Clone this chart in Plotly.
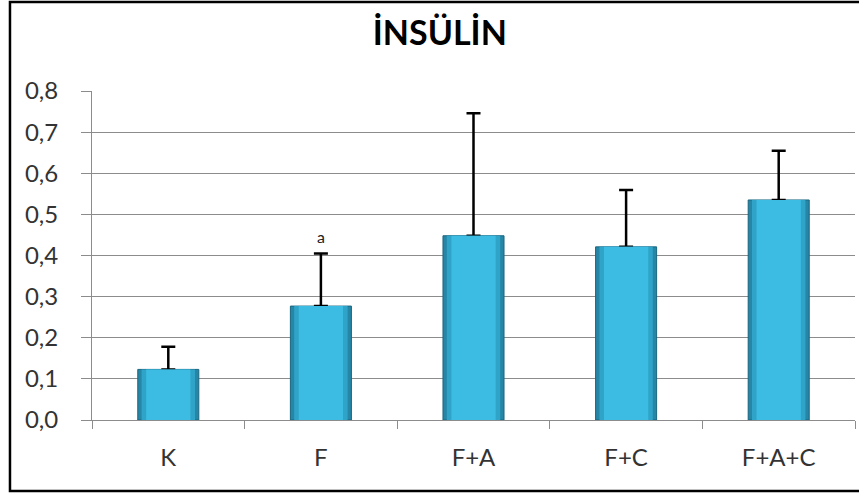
import plotly.graph_objects as go

categories = ["K", "F", "F+A", "F+C", "F+A+C"]
means = [0.123, 0.277, 0.448, 0.421, 0.535]
errors_plus = [0.055, 0.128, 0.298, 0.138, 0.120]
y_ticks = [0.0, 0.1, 0.2, 0.3, 0.4, 0.5, 0.6, 0.7, 0.8]
y_tick_labels = ["0,0", "0,1", "0,2", "0,3", "0,4", "0,5", "0,6", "0,7", "0,8"]
title_text = "İNSÜLİN"
sig_labels = ["", "a", "", "", ""]
sig_y = [None, 0.445, None, None, None]

FONT = "Lato, 'Open Sans', sans-serif"

fig = go.Figure()

# outer (dark edge) bar with error bars
fig.add_trace(go.Bar(
    x=categories, y=means, width=0.40,
    marker=dict(color="#2586A5", line=dict(color="#1A6680", width=1)),
    error_y=dict(type="data", array=errors_plus, arrayminus=[0] * len(means),
                 symmetric=False, color="#000000", thickness=2.5, width=7),
    hoverinfo="skip", showlegend=False,
))
# middle layer
fig.add_trace(go.Bar(
    x=categories, y=means, width=0.35,
    marker=dict(color="#30A3C8", line=dict(width=0)),
    hoverinfo="skip", showlegend=False,
))
# inner bright face
fig.add_trace(go.Bar(
    x=categories, y=means, width=0.29,
    marker=dict(color="#3CBCE2", line=dict(width=0)),
    showlegend=False,
))

for c, lab, yy in zip(categories, sig_labels, sig_y):
    if lab:
        fig.add_annotation(x=c, y=yy, text=lab, showarrow=False,
                           font=dict(family=FONT, size=16, color="#222222"),
                           yanchor="middle")

# outer chart frame (right edge falls outside the visible picture)
fig.add_shape(type="rect", xref="paper", yref="paper",
              x0=-0.1075, x1=1.2, y0=-0.2158, y1=1.2705,
              line=dict(color="#000000", width=2.5), fillcolor="rgba(0,0,0,0)")

fig.update_layout(
    width=859, height=497,
    margin=dict(l=92, r=4, t=91, b=77),
    paper_bgcolor="white", plot_bgcolor="white",
    barmode="overlay",
    title=dict(text="<b>" + title_text + "</b>", x=0.512, xanchor="center",
               y=0.934, yanchor="middle",
               font=dict(family=FONT, size=34, color="#000000")),
    font=dict(family=FONT, size=24, color="#333333"),
    xaxis=dict(showgrid=False, showline=True, linecolor="#8C8C8C", linewidth=1,
               ticks="outside", tickson="boundaries", ticklen=8, tickcolor="#8C8C8C",
               ticklabelstandoff=16, tickfont=dict(size=24, color="#333333")),
    yaxis=dict(range=[0, 0.8], tickvals=y_ticks, ticktext=y_tick_labels,
               showgrid=True, gridcolor="#8C8C8C", gridwidth=1,
               showline=True, linecolor="#8C8C8C", linewidth=1,
               ticks="outside", ticklen=10, tickcolor="#8C8C8C",
               ticklabelstandoff=18, zeroline=False,
               tickfont=dict(size=24, color="#333333")),
)

fig.write_html("out.html", config={"displayModeBar": False},
               post_script="document.body.style.margin='0px';")
